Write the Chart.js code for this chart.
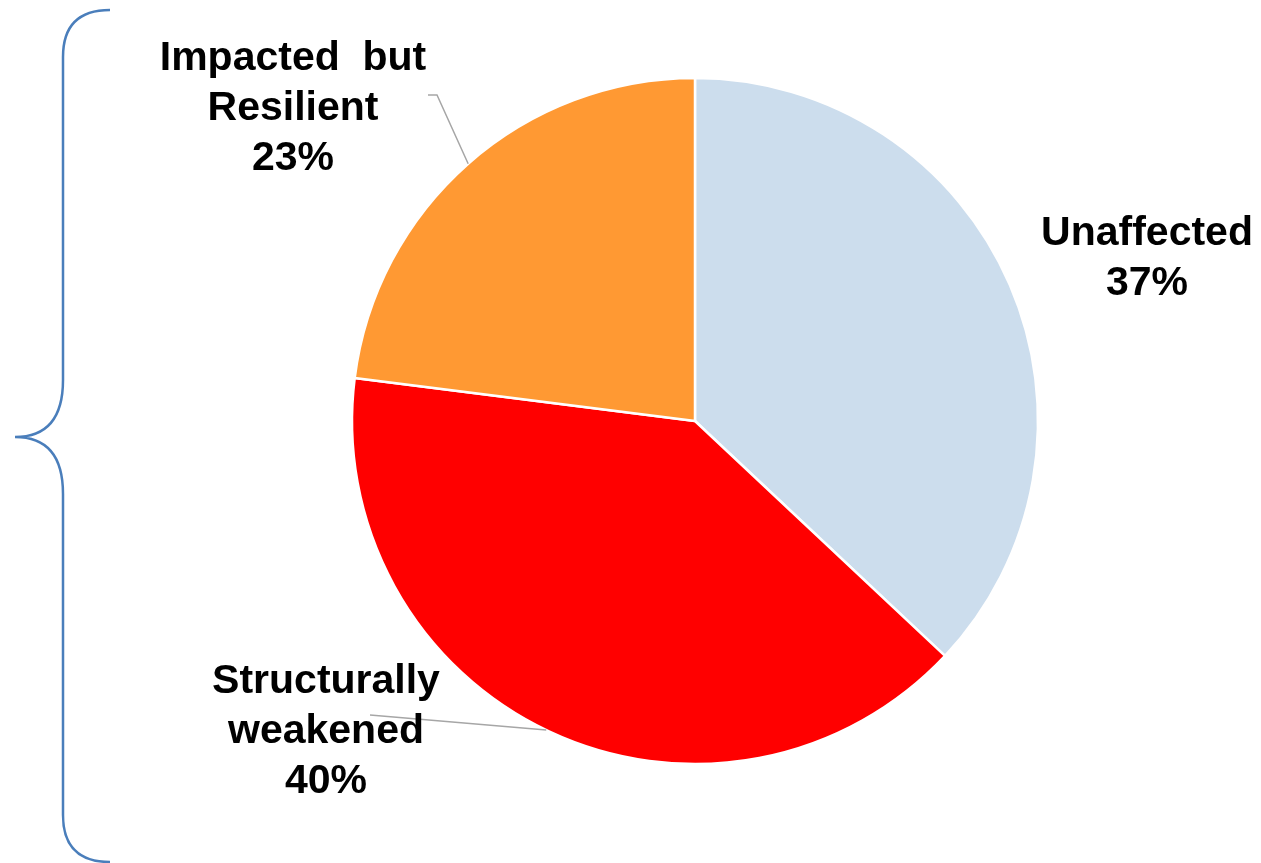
<!DOCTYPE html>
<html>
<head>
<meta charset="utf-8">
<script src="https://cdn.jsdelivr.net/npm/chart.js@4/dist/chart.umd.min.js"></script>
<style>
  html, body { margin: 0; padding: 0; background: #fff; }
  #wrap { width: 1261px; height: 863px; }
</style>
</head>
<body>
<div id="wrap"><canvas id="pie"></canvas></div>
<script>
// data
const categories = ['Unaffected', 'Structurally weakened', 'Impacted but Resilient'];
const shares = [37, 40, 23];
const sliceColors = ['#CCDDED', '#FF0000', '#FF9933'];

// label text lines, by slice
const labelLines = [
  ['Unaffected', '37%'],
  ['Structurally', 'weakened', '40%'],
  ['Impacted  but', 'Resilient', '23%']
];

const fontStack = '"Liberation Sans", Arial, sans-serif';

// brace on the left + labels with leader lines
const overlay = {
  id: 'overlay',
  afterDraw(chart) {
    const ctx = chart.ctx;
    const arcs = chart.getDatasetMeta(0).data;
    const cx = arcs[0].x, cy = arcs[0].y, r = arcs[0].outerRadius;

    // curly brace
    ctx.save();
    ctx.strokeStyle = '#4A7EBB';
    ctx.lineWidth = 2.5;
    ctx.beginPath();
    ctx.moveTo(110, 10);
    ctx.quadraticCurveTo(63, 10, 63, 57);
    ctx.lineTo(63, 380);
    ctx.quadraticCurveTo(63, 437, 15, 437);
    ctx.quadraticCurveTo(63, 437, 63, 494);
    ctx.lineTo(63, 815);
    ctx.quadraticCurveTo(63, 862, 110, 862);
    ctx.stroke();
    ctx.restore();

    // leader lines (angles in degrees, clockwise from 3 o'clock)
    const edge = deg => {
      const a = deg * Math.PI / 180;
      return [cx + r * Math.cos(a), cy + r * Math.sin(a)];
    };
    ctx.save();
    ctx.strokeStyle = '#A6A6A6';
    ctx.lineWidth = 1.5;
    let p = edge(228.6);
    ctx.beginPath();
    ctx.moveTo(428, 95);
    ctx.lineTo(437, 95);
    ctx.lineTo(p[0], p[1]);
    ctx.stroke();
    p = edge(115.7);
    ctx.beginPath();
    ctx.moveTo(370, 715);
    ctx.lineTo(p[0], p[1]);
    ctx.stroke();
    ctx.restore();

    // labels
    const anchors = [[1147, 234], [326, 682], [293, 59]];
    ctx.save();
    ctx.fillStyle = '#000';
    ctx.font = 'bold 41px ' + fontStack;
    ctx.textAlign = 'center';
    ctx.textBaseline = 'middle';
    labelLines.forEach((lines, i) => {
      lines.forEach((t, j) => {
        ctx.fillText(t, anchors[i][0], anchors[i][1] + j * 50);
      });
    });
    ctx.restore();
  }
};

new Chart(document.getElementById('pie'), {
  type: 'pie',
  data: {
    labels: categories,
    datasets: [{
      data: shares,
      backgroundColor: sliceColors,
      borderColor: '#FFFFFF',
      borderWidth: 2.5
    }]
  },
  options: {
    responsive: true,
    maintainAspectRatio: false,
    animation: false,
    radius: 343,
    layout: { padding: { left: 200, right: 71, top: 60, bottom: 81 } },
    plugins: {
      legend: { display: false },
      tooltip: { enabled: false }
    }
  },
  plugins: [overlay]
});
</script>
</body>
</html>
